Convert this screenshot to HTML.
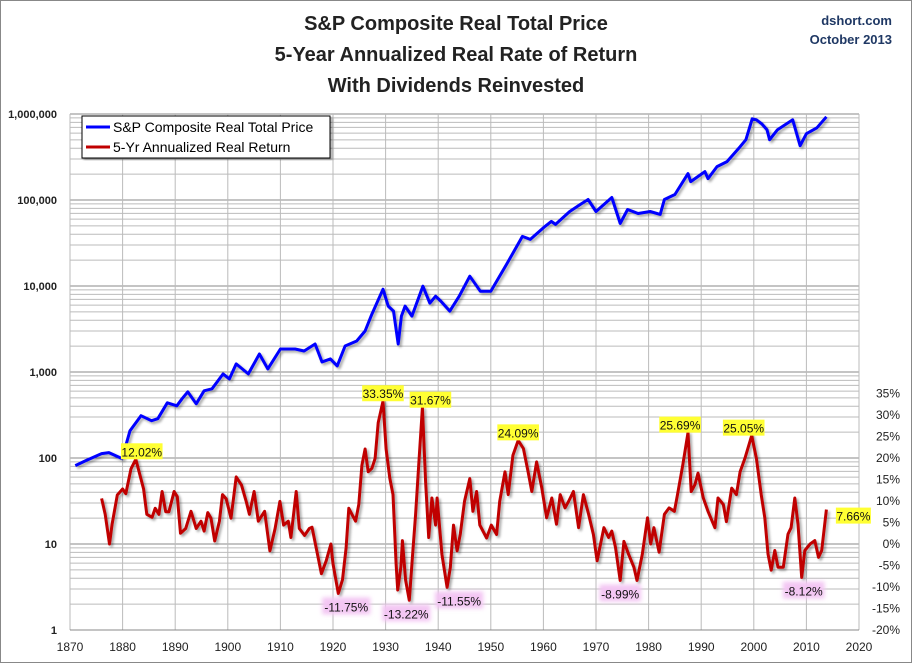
<!DOCTYPE html>
<html><head><meta charset="utf-8">
<style>
body{margin:0;background:#fff;}
svg{display:block;font-family:"Liberation Sans",Arial,sans-serif;}
</style></head>
<body>
<svg id="chart" width="913" height="664" viewBox="0 0 913 664">
<defs>
<filter id="sh" x="-5%" y="-5%" width="110%" height="110%">
<feDropShadow dx="2" dy="2" stdDeviation="1.2" flood-color="#000" flood-opacity="0.35"/>
</filter>
<filter id="glow" x="-20%" y="-40%" width="140%" height="180%">
<feGaussianBlur stdDeviation="2"/>
</filter>
</defs>
<rect x="0.5" y="0.5" width="911" height="662" fill="#fff" stroke="#888"/>
<g font-weight="bold" font-size="20" fill="#222" text-anchor="middle">
<text x="456" y="30">S&amp;P Composite Real Total Price</text>
<text x="456" y="61">5-Year Annualized Real Rate of Return</text>
<text x="456" y="92">With Dividends Reinvested</text>
</g>
<g font-weight="bold" font-size="13" fill="#1f3864" text-anchor="end">
<text x="892" y="25">dshort.com</text>
<text x="892" y="44">October 2013</text>
</g>
<g id="grid"></g>
<g id="axes"></g>
<g id="series"></g>
<g id="labels"></g>
<g>
<rect x="82" y="116" width="248" height="42" fill="#fff" stroke="#000" filter="url(#sh)"/>
<line x1="86" y1="127" x2="110" y2="127" stroke="#0000ff" stroke-width="3"/>
<text x="113" y="132" font-size="14" fill="#000">S&amp;P Composite Real Total Price</text>
<line x1="86" y1="147" x2="110" y2="147" stroke="#c00000" stroke-width="3"/>
<text x="113" y="152" font-size="14" fill="#000">5-Yr Annualized Real Return</text>
</g>
</svg>
<script>
const xTicks=[1870,1880,1890,1900,1910,1920,1930,1940,1950,1960,1970,1980,1990,2000,2010,2020];
const yTicks=[1,10,100,1000,10000,100000,1000000];
const yTickLabels=["1","10","100","1,000","10,000","100,000","1,000,000"];
const pctTicks=[-20,-15,-10,-5,0,5,10,15,20,25,30,35];
const priceYears=[1871,1873,1876,1877.4,1879.9,1881.4,1883.5,1885.5,1886.7,1888.5,1890.3,1891.3,1892.4,1894,1895.5,1897,1899.1,1900.3,1901.6,1903.9,1906,1907.6,1910,1912.8,1914.5,1916.6,1917.9,1919.5,1920.8,1922.3,1924.5,1926.1,1927.4,1929.5,1930.5,1931.5,1932.4,1933,1933.7,1935,1937.1,1938.4,1939.5,1940.5,1942.2,1944,1946,1948,1950,1953,1956,1957.5,1960.3,1961.5,1962.3,1965,1967,1968.5,1970,1973,1974.6,1976,1978,1980.3,1982.2,1983,1985,1987.5,1988,1990.7,1991.3,1993,1994.9,1997.4,1998.5,1999.7,2000.5,2001.5,2002.5,2003,2004.5,2007.4,2008.8,2010,2012,2013.8];
const priceYpx=[465,460,453,452,458,430,415,420,418,402,405,398,391,403,390,388,373,378,363,373,353,368,348,348,350,343,361,358,365,345,340,330,313,288,305,310,343,315,305,315,285,302,295,300,310,295,275,290,290,263,235,238,225,220,223,210,203,198,210,196,222,208,212,210,213,198,193,172,180,170,177,165,160,145,138,117,118,122,128,138,128,118,144,132,126,115];
const priceVals=priceYpx.map(y=>Math.pow(10,(630-y)/86.3));
const retYears=[1876,1876.7,1877.5,1878,1879,1880,1880.6,1881.6,1882.5,1884,1884.6,1885.6,1886.2,1886.9,1887.5,1888.2,1888.8,1889.8,1890.4,1891,1892,1893,1894,1894.9,1895.5,1896.2,1896.8,1897.5,1898.4,1899,1899.7,1900.6,1901.6,1902.6,1903.5,1904.1,1905,1905.8,1907,1908,1909,1909.9,1910.6,1911.5,1912,1913,1913.6,1914.6,1915.5,1916,1916.8,1917.8,1918.7,1919.6,1920,1921,1921.8,1922.5,1923,1923.6,1924.3,1924.9,1925.5,1926.1,1926.7,1927.4,1928,1928.6,1929.5,1930.1,1930.8,1931.4,1932,1932.3,1932.9,1933.2,1933.8,1934.5,1935.1,1935.7,1936.3,1937,1937.6,1938.2,1938.8,1939.5,1939.8,1940.7,1941.7,1942.3,1942.9,1943.6,1944.2,1945,1946,1946.6,1947.3,1947.9,1949.2,1950.1,1951.1,1951.7,1952.7,1953.3,1954.2,1955.2,1956.2,1957.1,1957.8,1958.7,1959.7,1960.6,1961.6,1962.5,1963.2,1964.1,1964.8,1965.7,1966.7,1967.6,1968.6,1969.5,1970.2,1971.5,1972.4,1973,1973.7,1974.6,1975.3,1976.2,1977.2,1977.8,1978.8,1979.8,1980.4,1981,1982,1983,1983.9,1984.9,1985.5,1986.5,1987.5,1988.1,1988.8,1989.4,1990.4,1991.3,1992.6,1993.2,1994.2,1994.8,1995.8,1996.7,1997.4,1998.3,1999.6,2000.5,2001.4,2002.1,2002.7,2003.3,2004,2004.6,2005.6,2006.5,2007.1,2007.8,2008.4,2009.1,2009.7,2010.7,2011.6,2012.3,2012.9,2013.8];
const retVals=[10.6,6.9,0,4.6,11.4,12.8,11.7,17.5,19.7,12.8,6.9,6.2,8.3,6.9,12.2,7.5,7.5,12.2,11,2.5,3.6,7.6,3.6,5.3,3,7.3,6,0.7,5.3,11.5,10.5,6,15.6,13.7,9.9,6.9,12.2,5.3,7.6,-1.6,3.6,9.9,4.4,5.3,1.5,12.2,3.6,2,3.6,3.9,-0.9,-6.9,-3.9,0,-4.6,-11.5,-8.3,-0.9,8.3,6.9,5.3,9.2,18.3,22.1,16.8,17.6,19.9,28.2,33.2,22.1,15.3,11.5,-4.6,-10.7,-5.3,0.8,-8.4,-13.1,-3.1,6.9,18.3,31.7,14.5,1.5,10.7,4.4,10.7,-2.4,-10.1,-5.5,4.4,-1.6,2.3,9.9,15.2,7.6,12.2,4.4,1.4,4.4,2.2,9.9,16.8,11.5,20.6,24.1,22.2,16.8,12.2,19.1,13,6.1,10.7,4.6,11.5,8.4,9.9,12.2,3.8,11.5,6.9,2.2,-3.9,3.8,1.5,3,-0.8,-8.5,0.6,-2.4,-5.4,-8.5,-2.4,6.1,0,3.8,-1.9,6.9,8.4,7.6,11.5,18.4,25.9,12.2,13.8,16.5,10.7,7.6,3.8,10.7,9.2,5.2,13,11.5,16.8,19.9,25.2,19.9,11.5,6.1,-2.3,-6.1,-1.5,-5.4,-5.4,2.3,3.8,10.7,4.6,-7.8,-1.5,0,0.8,-3.1,-1.5,8.0];
const annYears=[1882.5,1929.5,1937,1955.2,1987.5,1999.6,2013.8,1921,1934.5,1941.7,1974.6,2009.1];
const annVals=[19.7,33.2,31.7,24.1,25.9,25.2,8.0,-11.5,-13.1,-10.1,-8.5,-7.8];
const annText=["12.02%","33.35%","31.67%","24.09%","25.69%","25.05%","7.66%","-11.75%","-13.22%","-11.55%","-8.99%","-8.12%"];
const annDx=[6,0,8,0,-8,-8,27,8,-3,12,0,2];

const NS="http://www.w3.org/2000/svg";
const X0=70,X1=859,YTOP=114,YBOT=630;
function xs(yr){return X0+(yr-1870)*(X1-X0)/150;}
function ys(v){return YBOT-Math.log10(v)*(YBOT-YTOP)/6;}
function ypct(p){return ys(10)-p*(YBOT-ys(10))/20;}
function mk(tag,attrs,parent){const e=document.createElementNS(NS,tag);for(const k in attrs)e.setAttribute(k,attrs[k]);parent.appendChild(e);return e;}
const grid=document.getElementById('grid'),axes=document.getElementById('axes'),series=document.getElementById('series'),labels=document.getElementById('labels');
for(let d=0;d<6;d++){for(let m=1;m<10;m++){const v=Math.pow(10,d)*m;const y=ys(v);
const l=mk('line',{x1:X0,x2:X1,y1:y,y2:y,stroke:m===1?'#888':'#bbb','stroke-width':1},grid);

}}
const topLine=mk('line',{x1:X0,x2:X1,y1:ys(1e6),y2:ys(1e6),stroke:'#888'},grid);


xTicks.forEach(t=>{const x=xs(t);
const l=mk('line',{x1:x,x2:x,y1:YTOP,y2:YBOT,stroke:'#bbb'},grid);


const tx=mk('text',{x:x,y:651,'font-size':12,'text-anchor':'middle',fill:'#222'},axes);tx.textContent=t;

});
const ax=mk('line',{x1:X0,x2:X1,y1:YBOT,y2:YBOT,stroke:'#888'},axes);


yTicks.forEach((v,i)=>{const tx=mk('text',{x:57,y:ys(v)+4,'font-size':11,'font-weight':'bold','text-anchor':'end',fill:'#222'},axes);tx.textContent=yTickLabels[i];

});
pctTicks.forEach(p=>{const tx=mk('text',{x:900,y:ypct(p)+4,'font-size':12,'text-anchor':'end',fill:'#222'},axes);tx.textContent=p+'%';

});
function path(xsArr,ysArr){return xsArr.map((x,i)=>(i?'L':'M')+x.toFixed(1)+','+ysArr[i].toFixed(1)).join(' ');}
const bp=mk('path',{d:path(priceYears.map(xs),priceVals.map(ys)),fill:'none',stroke:'#0000ff','stroke-width':3,'stroke-linejoin':'round',filter:'url(#sh)'},series);


const rp=mk('path',{d:path(retYears.map(xs),retVals.map(ypct)),fill:'none',stroke:'#c00000','stroke-width':3,'stroke-linejoin':'round',filter:'url(#sh)'},series);


annYears.forEach((yr,i)=>{const neg=annVals[i]<0;const cx=xs(yr)+annDx[i];
let cy=neg?ypct(annVals[i])+13:ypct(annVals[i])-8;
if(i===6){cy=ypct(annVals[i])+6;}
const w=annText[i].length*6.6+2;
const g=mk('g',{},labels);


if(neg){mk('rect',{x:cx-w/2,y:cy-9,width:w,height:17,fill:'#f3c6f3',filter:'url(#glow)'},g);}
else{mk('rect',{x:cx-w/2,y:cy-8,width:w,height:16,fill:'#ffff33'},g);}
const t=mk('text',{x:cx,y:cy+5,'font-size':12,'text-anchor':'middle',fill:'#111'},g);t.textContent=annText[i];});
</script>
</body></html>
